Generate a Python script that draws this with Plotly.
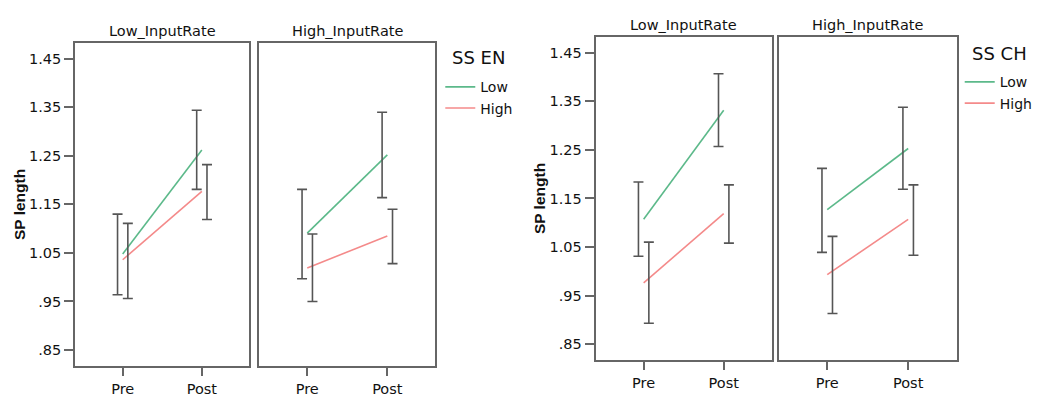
import plotly.graph_objects as go

W, H = 1038, 397

times = ["Pre", "Post"]
groups = ["Low", "High"]
panels = ["EN", "CH"]
panel_titles = ["SS EN", "SS CH"]
input_rates = ["Low_InputRate", "High_InputRate"]

en_low_rate_low_mean = [1.048, 1.262]
en_low_rate_low_lo = [0.964, 1.181]
en_low_rate_low_hi = [1.130, 1.344]
en_low_rate_high_mean = [1.036, 1.177]
en_low_rate_high_lo = [0.956, 1.119]
en_low_rate_high_hi = [1.111, 1.232]

en_high_rate_low_mean = [1.091, 1.252]
en_high_rate_low_lo = [0.997, 1.164]
en_high_rate_low_hi = [1.181, 1.340]
en_high_rate_high_mean = [1.019, 1.085]
en_high_rate_high_lo = [0.950, 1.028]
en_high_rate_high_hi = [1.089, 1.140]

ch_low_rate_low_mean = [1.107, 1.332]
ch_low_rate_low_lo = [1.031, 1.257]
ch_low_rate_low_hi = [1.184, 1.407]
ch_low_rate_high_mean = [0.976, 1.119]
ch_low_rate_high_lo = [0.893, 1.058]
ch_low_rate_high_hi = [1.060, 1.178]

ch_high_rate_low_mean = [1.127, 1.253]
ch_high_rate_low_lo = [1.039, 1.169]
ch_high_rate_low_hi = [1.212, 1.338]
ch_high_rate_high_mean = [0.993, 1.107]
ch_high_rate_high_lo = [0.913, 1.033]
ch_high_rate_high_hi = [1.072, 1.178]

ytick_vals = [0.85, 0.95, 1.05, 1.15, 1.25, 1.35, 1.45]
ytick_text = [".85", ".95", "1.05", "1.15", "1.25", "1.35", "1.45"]

data = {
    ("EN", 0): {"Low": (en_low_rate_low_mean, en_low_rate_low_lo, en_low_rate_low_hi),
                "High": (en_low_rate_high_mean, en_low_rate_high_lo, en_low_rate_high_hi)},
    ("EN", 1): {"Low": (en_high_rate_low_mean, en_high_rate_low_lo, en_high_rate_low_hi),
                "High": (en_high_rate_high_mean, en_high_rate_high_lo, en_high_rate_high_hi)},
    ("CH", 0): {"Low": (ch_low_rate_low_mean, ch_low_rate_low_lo, ch_low_rate_low_hi),
                "High": (ch_low_rate_high_mean, ch_low_rate_high_lo, ch_low_rate_high_hi)},
    ("CH", 1): {"Low": (ch_high_rate_low_mean, ch_high_rate_low_lo, ch_high_rate_low_hi),
                "High": (ch_high_rate_high_mean, ch_high_rate_high_lo, ch_high_rate_high_hi)},
}

colors = {"Low": "#5cb98a", "High": "#f48a8a"}
dodge = {"Low": -0.065, "High": 0.065}
FONT = "DejaVu Sans, sans-serif"
BFONT = "Liberation Sans, Arial, sans-serif"
AXC = "#666666"
TXT = "#111111"

boxes = {
    ("EN", 0): ((76, 252), (43, 370)),
    ("EN", 1): ((262, 440), (43, 370)),
    ("CH", 0): ((602, 780), (37, 364)),
    ("CH", 1): ((787, 967), (37, 364)),
}
# legend x, title x, title y, legend top y (pixels)
legend_pos = {"EN": (445, 455, 58, 72), "CH": (970, 980, 54, 67)}

fig = go.Figure()
layout = dict(
    width=W, height=H, margin=dict(l=0, r=0, t=0, b=0),
    paper_bgcolor="white", plot_bgcolor="white",
    font=dict(family=FONT, color=TXT, size=14),
    annotations=[],
)

xpos = [0, 1]
idx = 0
for pi, p in enumerate(panels):
    for r in range(2):
        idx += 1
        xa = "x" if idx == 1 else f"x{idx}"
        ya = "y" if idx == 1 else f"y{idx}"
        (x0, x1), (yt, yb) = boxes[(p, r)]
        legend_name = "legend" if p == "EN" else "legend2"
        for g in groups:
            mean, lo, hi = data[(p, r)][g]
            fig.add_trace(go.Scatter(
                x=xpos, y=mean, mode="lines", xaxis=xa, yaxis=ya,
                line=dict(color=colors[g], width=1.6), name=g,
                showlegend=(r == 0), legend=legend_name, hoverinfo="skip"))
            fig.add_trace(go.Scatter(
                x=[v + dodge[g] for v in xpos], y=mean, mode="markers",
                xaxis=xa, yaxis=ya, marker=dict(size=0.1, opacity=0),
                showlegend=False,
                error_y=dict(type="data", symmetric=False,
                             array=[h - m for h, m in zip(hi, mean)],
                             arrayminus=[m - l for m, l in zip(mean, lo)],
                             color="#555555", thickness=1.6, width=5)))
        xkey = "xaxis" if idx == 1 else f"xaxis{idx}"
        ykey = "yaxis" if idx == 1 else f"yaxis{idx}"
        layout[xkey] = dict(
            domain=[x0 / W, x1 / W], range=[-0.6, 1.6], anchor=ya,
            tickvals=xpos, ticktext=times, ticks="outside", ticklen=8,
            tickwidth=2, tickcolor=AXC, showgrid=False, zeroline=False,
            showline=True, mirror=True, linecolor=AXC, linewidth=2,
            tickfont=dict(size=14.5, family=FONT, color=TXT), fixedrange=True)
        layout[ykey] = dict(
            domain=[1 - yb / H, 1 - yt / H], range=[0.8165, 1.4835], anchor=xa,
            tickvals=ytick_vals, ticktext=ytick_text,
            ticks="outside" if r == 0 else "", ticklen=9, tickwidth=2,
            tickcolor=AXC, showticklabels=(r == 0), showgrid=False,
            zeroline=False, showline=True, mirror=True, linecolor=AXC,
            linewidth=2, tickfont=dict(size=14.5, family=FONT, color=TXT),
            fixedrange=True)
        if r == 0:
            layout[ykey]["title"] = dict(text="<b>SP length</b>",
                                         font=dict(size=15.5, family=BFONT, color=TXT),
                                         standoff=0)
        layout["annotations"].append(dict(
            text=input_rates[r], xref="paper", yref="paper",
            x=(x0 + x1) / 2 / W, y=1 - (yt - 12) / H, xanchor="center", yanchor="middle",
            showarrow=False, font=dict(size=14.5, family=FONT, color=TXT)))
    lx, tx, ty, ly = legend_pos[p]
    layout["annotations"].append(dict(
        text=panel_titles[pi], xref="paper", yref="paper",
        x=tx / W, y=1 - ty / H, xanchor="left", yanchor="middle",
        showarrow=False, font=dict(size=18, family=FONT, color=TXT)))
    lkey = "legend" if p == "EN" else "legend2"
    layout[lkey] = dict(
        x=lx / W, y=1 - ly / H, xanchor="left", yanchor="top",
        font=dict(size=14, family=FONT, color=TXT), itemwidth=30,
        tracegroupgap=0, bgcolor="rgba(0,0,0,0)")

fig.update_layout(**layout)
fig.write_html("out.html")
